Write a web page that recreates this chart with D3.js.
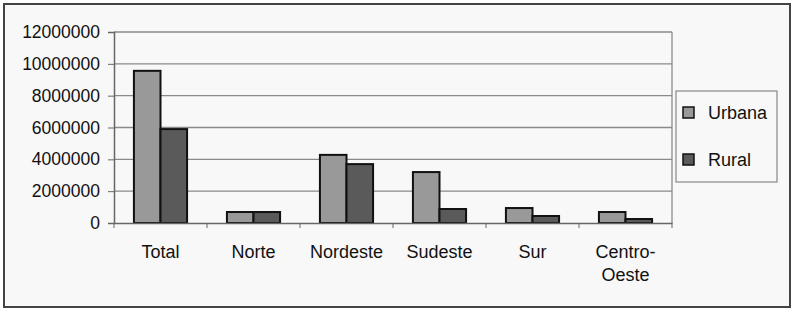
<!DOCTYPE html>
<meta charset="utf-8">
<script src="https://d3js.org/d3.v7.min.js"></script>
<style>
  body { margin: 0; background: #fff; }
  text { font-family: "Liberation Sans", Arial, sans-serif; fill: #111; }
</style>
<svg id="chart" width="800" height="314"></svg>
<script>
  // data
  var regions = ["Total", "Norte", "Nordeste", "Sudeste", "Sur", "Centro-Oeste"];
  var urbana = [9560000, 690000, 4280000, 3200000, 940000, 690000];
  var rural = [5900000, 690000, 3700000, 880000, 440000, 250000];
  var series = ["Urbana", "Rural"];
  var yTicks = [0, 2000000, 4000000, 6000000, 8000000, 10000000, 12000000];

  var svg = d3.select("#chart");

  // outer frame
  svg.append("rect")
    .attr("x", 4).attr("y", 4)
    .attr("width", 786).attr("height", 303)
    .attr("fill", "#f8f8f8")
    .attr("stroke", "#444")
    .attr("stroke-width", 2);

  var pLeft = 114, pRight = 672, pTop = 32, pBottom = 223;

  var x = d3.scaleBand().domain(regions).range([pLeft, pRight]);
  var xs = d3.scaleBand().domain(series).range([0, x.bandwidth()])
    .paddingInner(0).paddingOuter(0.75);
  var y = d3.scaleLinear().domain([0, 12000000]).range([pBottom, pTop]);
  var color = d3.scaleOrdinal().domain(series).range(["#999999", "#5a5a5a"]);

  // gridlines
  svg.append("g")
    .selectAll("line")
    .data(yTicks.slice(1))
    .enter().append("line")
    .attr("x1", pLeft).attr("x2", pRight)
    .attr("y1", d => y(d)).attr("y2", d => y(d))
    .attr("stroke", "#8a8a8a").attr("stroke-width", 1.3);

  // plot area right border
  svg.append("line")
    .attr("x1", pRight).attr("x2", pRight)
    .attr("y1", pTop).attr("y2", pBottom)
    .attr("stroke", "#8a8a8a").attr("stroke-width", 1.3);

  // bars
  var rows = regions.map((r, i) => ({ region: r, values: [urbana[i], rural[i]] }));
  svg.append("g")
    .selectAll("g")
    .data(rows)
    .enter().append("g")
    .attr("transform", d => "translate(" + x(d.region) + ",0)")
    .selectAll("rect")
    .data(d => d.values.map((v, j) => ({ key: series[j], value: v })))
    .enter().append("rect")
    .attr("x", d => xs(d.key))
    .attr("width", xs.bandwidth())
    .attr("y", d => y(d.value))
    .attr("height", d => pBottom - y(d.value))
    .attr("fill", d => color(d.key))
    .attr("stroke", "#111")
    .attr("stroke-width", 2);

  // y axis
  var yAxis = svg.append("g")
    .attr("transform", "translate(" + pLeft + ",0)")
    .call(d3.axisLeft(y).tickValues(yTicks).tickFormat(d3.format("d")).tickSize(6).tickPadding(8));
  yAxis.select(".domain").attr("stroke", "#666").attr("stroke-width", 1.5);
  yAxis.selectAll(".tick line").attr("stroke", "#666");
  yAxis.selectAll("text").style("font-size", "17.5px").attr("fill", "#111")
    .style("font-family", "'Liberation Sans', Arial, sans-serif");

  // x axis
  var xAxis = svg.append("g")
    .attr("transform", "translate(0," + pBottom + ")")
    .call(d3.axisBottom(x).tickSize(0).tickFormat(""));
  xAxis.select(".domain").attr("stroke", "#666").attr("stroke-width", 1.5);
  xAxis.selectAll(".tick").remove();
  xAxis.selectAll(".sep")
    .data(regions.concat(["end"]))
    .enter().append("line")
    .attr("x1", (d, i) => pLeft + i * x.step()).attr("x2", (d, i) => pLeft + i * x.step())
    .attr("y1", 0).attr("y2", 5)
    .attr("stroke", "#666");

  // x labels
  var labels = svg.append("g").selectAll("text")
    .data(regions)
    .enter().append("text")
    .attr("text-anchor", "middle")
    .attr("x", d => x(d) + x.bandwidth() / 2)
    .attr("y", 258)
    .style("font-size", "18px");
  labels.each(function (d) {
    var parts = d === "Centro-Oeste" ? ["Centro-", "Oeste"] : [d];
    var t = d3.select(this);
    parts.forEach((p, i) => {
      t.append("tspan")
        .attr("x", x(d) + x.bandwidth() / 2)
        .attr("dy", i === 0 ? 0 : 23)
        .text(p);
    });
  });

  // legend
  var legend = svg.append("g");
  legend.append("rect")
    .attr("x", 676).attr("y", 91)
    .attr("width", 101).attr("height", 91)
    .attr("fill", "none")
    .attr("stroke", "#888").attr("stroke-width", 1.2);
  var item = legend.selectAll(".item")
    .data(series)
    .enter().append("g")
    .attr("transform", (d, i) => "translate(683," + (107 + i * 47) + ")");
  item.append("rect")
    .attr("width", 11).attr("height", 11)
    .attr("fill", d => color(d))
    .attr("stroke", "#111").attr("stroke-width", 1.5);
  item.append("text")
    .attr("x", 25).attr("y", 12)
    .style("font-size", "18px")
    .text(d => d);
</script>
